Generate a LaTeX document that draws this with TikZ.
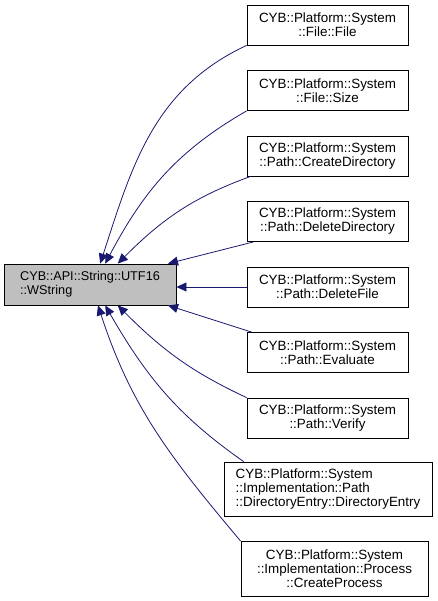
\documentclass[tikz,border=0pt]{standalone}
\usepackage{fontspec}
\setmainfont{Liberation Sans}
\usetikzlibrary{arrows.meta}
\definecolor{edgeblue}{HTML}{191970}
\definecolor{basegray}{HTML}{BFBFBF}
\tikzset{
  classbox/.style={draw=black, line width=0.8pt, inner sep=0pt, align=center,
    font=\fontsize{13.4}{14}\selectfont},
  usedby/.style={draw=edgeblue, line width=0.8pt, -{Triangle[length=10pt,width=9pt]}}
}
\begin{document}
\begin{tikzpicture}[x=1pt, y=1pt]
  \useasboundingbox (0,0) rectangle (437,-601);

  % the class that is used
  \node[classbox, fill=basegray, align=left, minimum width=172, minimum height=41,
    font=\fontsize{12.7}{14}\selectfont]
    (wstring) at (90,-284.5) {CYB::API::String::UTF16\\::WString};

  % the places that use it
  \node[classbox, minimum width=161, minimum height=40] (file) at (327.5,-25)
    {CYB::Platform::System\\::File::File};
  \node[classbox, minimum width=161, minimum height=40] (size) at (327.5,-90.5)
    {CYB::Platform::System\\::File::Size};
  \node[classbox, minimum width=161, minimum height=40] (createdir) at (327.5,-156)
    {CYB::Platform::System\\::Path::CreateDirectory};
  \node[classbox, minimum width=161, minimum height=40] (deletedir) at (327.5,-221.5)
    {CYB::Platform::System\\::Path::DeleteDirectory};
  \node[classbox, minimum width=161, minimum height=40] (deletefile) at (327.5,-287)
    {CYB::Platform::System\\::Path::DeleteFile};
  \node[classbox, minimum width=161, minimum height=40] (evaluate) at (327.5,-352.5)
    {CYB::Platform::System\\::Path::Evaluate};
  \node[classbox, minimum width=161, minimum height=40] (verify) at (327.5,-418)
    {CYB::Platform::System\\::Path::Verify};
  \node[classbox, align=left, minimum width=208, minimum height=54] (direntry) at (328,-489)
    {CYB::Platform::System\\::Implementation::Path\\::DirectoryEntry::DirectoryEntry};
  \node[classbox, minimum width=187, minimum height=55] (createproc) at (334.5,-569)
    {CYB::Platform::System\\::Implementation::Process\\::CreateProcess};

  % upper edges
  \draw[usedby] (file.south west) to[out=205, in=72] (wstring.64);
  \draw[usedby] (size.south west) to[out=210, in=62] (wstring.54);
  \draw[usedby] ([xshift=4]createdir.south west) to[out=200, in=45] (wstring.37);
  \draw[usedby] ([xshift=7]deletedir.south west) -- (wstring.15);

  % middle edge
  \draw[usedby] (deletefile.west) -- (wstring.east |- deletefile.west);

  % lower edges
  \draw[usedby] ([xshift=5]evaluate.north west) -- (wstring.-15);
  \draw[usedby] (verify.north west) to[out=155, in=-45] (wstring.-37);
  \draw[usedby] (direntry.162) to[out=145, in=-60] (wstring.-54);
  \draw[usedby] (createproc.north west) to[out=130, in=-72] (wstring.-69);
\end{tikzpicture}
\end{document}
